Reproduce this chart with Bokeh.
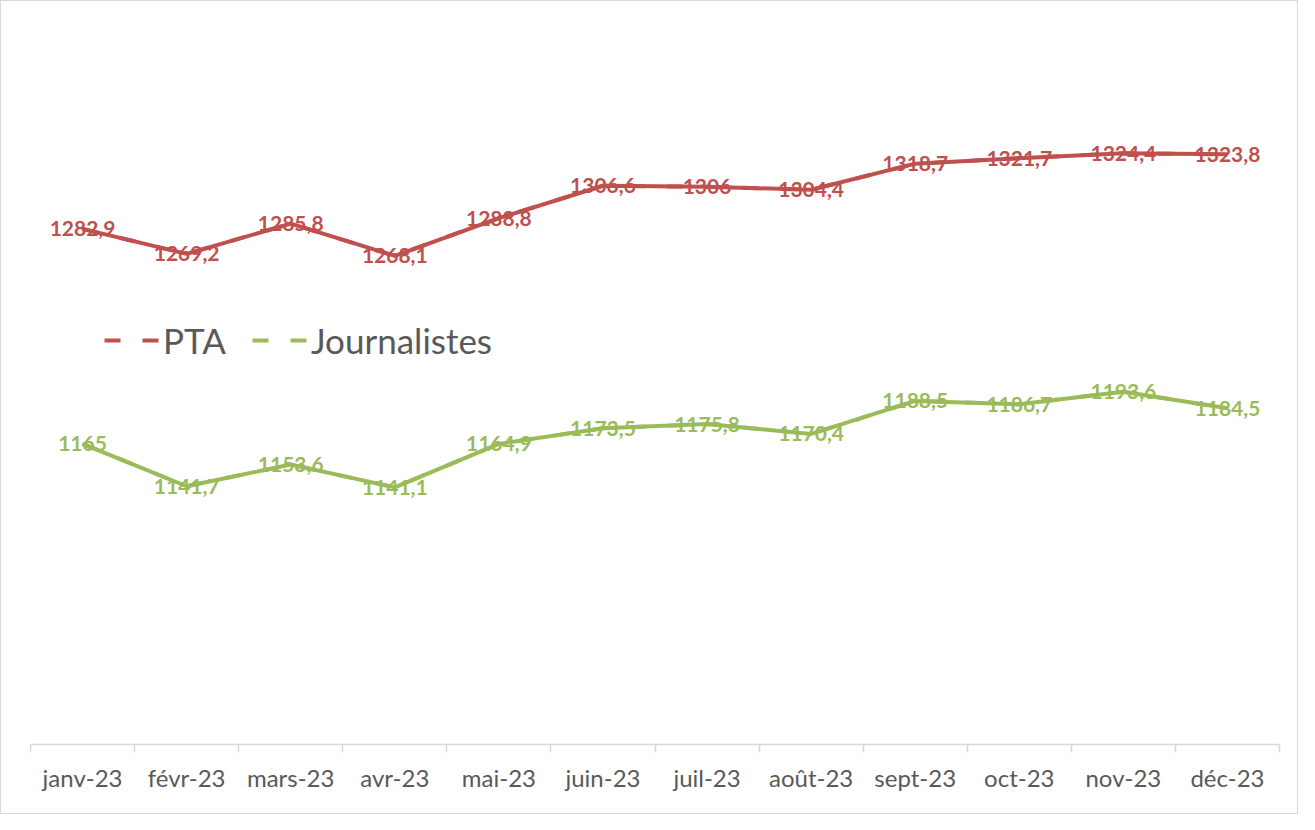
from bokeh.plotting import figure
from bokeh.models import Range1d, FixedTicker, ColumnDataSource, Legend, LegendItem
from bokeh.core.properties import value
from bokeh.embed import file_html
from bokeh.resources import INLINE

months = ["janv-23", "févr-23", "mars-23", "avr-23", "mai-23", "juin-23",
          "juil-23", "août-23", "sept-23", "oct-23", "nov-23", "déc-23"]
pta = [1282.9, 1269.2, 1285.8, 1268.1, 1288.8, 1306.6,
       1306.0, 1304.4, 1318.7, 1321.7, 1324.4, 1323.8]
journalistes = [1165.0, 1141.7, 1153.6, 1141.1, 1164.9, 1173.5,
                1175.8, 1170.4, 1188.5, 1186.7, 1193.6, 1184.5]

RED = "#C0504D"
GREEN = "#9BBB59"
GRAY = "#595959"
AXIS = "#D9D9D9"
FONT = "Lato"

def fmt(v):
    return f"{v:g}".replace(".", ",")

xs = [i + 0.5 for i in range(len(months))]

p = figure(width=1298, height=814, output_backend="svg", toolbar_location=None,
           x_range=Range1d(0, len(months)), y_range=Range1d(1000, 1400),
           y_axis_location=None, min_border_left=29, min_border_right=20,
           min_border_top=14, min_border_bottom=71)
p.outline_line_color = None
p.grid.visible = False
p.background_fill_color = "white"
p.border_fill_color = "white"
p.styles = {"border": "1.5px solid #D9D9D9"}

ax = p.xaxis[0]
ax.ticker = FixedTicker(ticks=xs, minor_ticks=list(range(len(months) + 1)))
ax.major_label_overrides = {x: m for x, m in zip(xs, months)}
ax.major_tick_out = 0
ax.major_tick_in = 0
ax.minor_tick_out = 8
ax.minor_tick_in = 0
ax.minor_tick_line_color = AXIS
ax.minor_tick_line_width = 1.5
ax.axis_line_color = AXIS
ax.axis_line_width = 1.5
ax.major_label_text_font = FONT
ax.major_label_text_font_size = "24px"
ax.major_label_text_color = GRAY
ax.major_label_standoff = 10

src_p = ColumnDataSource(dict(x=xs, y=pta, t=[fmt(v) for v in pta]))
src_j = ColumnDataSource(dict(x=xs, y=journalistes, t=[fmt(v) for v in journalistes]))

# dashed copies (hidden beneath the solid lines) provide Excel-like dashed legend keys
lp = p.line("x", "y", source=src_p, line_color=RED, line_width=4, line_dash="16 22")
lj = p.line("x", "y", source=src_j, line_color=GREEN, line_width=4, line_dash="16 22")

p.line("x", "y", source=src_p, line_color=RED, line_width=4)
p.line("x", "y", source=src_j, line_color=GREEN, line_width=4)

for src, c in ((src_p, RED), (src_j, GREEN)):
    p.text("x", "y", text="t", source=src, text_color=c, text_align="center",
           text_baseline="middle", text_font=value(FONT), text_font_style="bold",
           text_font_size="21px")

legend = Legend(items=[LegendItem(label="PTA", renderers=[lp]),
                       LegendItem(label="Journalistes", renderers=[lj])],
                orientation="horizontal", location=(74, 383),
                glyph_width=56, glyph_height=30, label_standoff=3, spacing=26,
                padding=0, margin=0, border_line_color=None,
                background_fill_alpha=0,
                label_text_font=FONT, label_text_font_size="35px",
                label_text_color=GRAY)
p.add_layout(legend, "center")

open("out.html", "w").write(file_html(p, INLINE))
